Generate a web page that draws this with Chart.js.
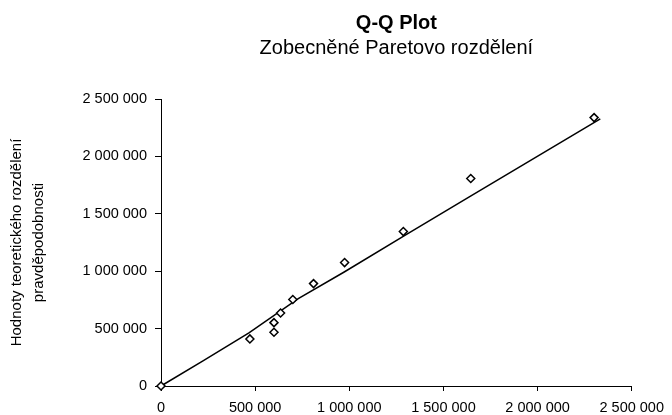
<!DOCTYPE html>
<html>
<head>
<meta charset="utf-8">
<title>Q-Q Plot</title>
<script src="https://cdn.jsdelivr.net/npm/chart.js@4.4.1/dist/chart.umd.min.js"></script>
<style>
body { margin: 0; background: #fff; }
#box { width: 672px; height: 415px; }
</style>
</head>
<body>
<div id="box"><canvas id="qq-plot"></canvas></div>
<script>
// data
var sampleX = [0, 472000, 600000, 600000, 635000, 700000, 810000, 975000, 1287000, 1645000, 2300000];
var sampleY = [0, 410000, 468000, 552000, 636000, 753000, 892000, 1075000, 1345000, 1808000, 2338000];
var lineX = [0, 223000, 467000, 729000, 973000, 1304000, 1635000, 2333000];
var lineY = [0, 218000, 462000, 761000, 993000, 1321000, 1646000, 2326000];
var axisTicks = [0, 500000, 1000000, 1500000, 2000000, 2500000];

var titleText = "Q-Q Plot";
var subtitleText = "Zobecněné Paretovo rozdělení";
var yTitle = ["Hodnoty teoretického rozdělení", "pravděpodobnosti"];

var font = '"Liberation Sans", Arial, sans-serif';

function pairs(xs, ys) {
    var out = [];
    for (var i = 0; i < xs.length; i++) {
        out.push({x: xs[i], y: ys[i]});
    }
    return out;
}

// "2 500 000"
function spaced(v) {
    return String(v).replace(/\B(?=(\d{3})+(?!\d))/g, " ");
}

function fixedTicks(scale) {
    scale.ticks = axisTicks.map(function (v) { return {value: v}; });
}

Chart.defaults.color = "#000000";
Chart.defaults.font.family = font;

var ctx = document.getElementById("qq-plot").getContext("2d");
var qqChart = new Chart(ctx, {
    type: "scatter",
    data: {
        datasets: [
            {
                label: "data",
                data: pairs(sampleX, sampleY),
                pointStyle: "rectRot",
                pointRadius: 4,
                pointBorderWidth: 1.5,
                pointBorderColor: "#000000",
                pointBackgroundColor: "#ffffff",
                showLine: false,
                clip: false
            },
            {
                label: "model",
                data: pairs(lineX, lineY),
                showLine: true,
                borderColor: "#000000",
                borderWidth: 1.5,
                pointRadius: 0,
                tension: 0,
                clip: false
            }
        ]
    },
    options: {
        responsive: true,
        maintainAspectRatio: false,
        animation: false,
        layout: {
            padding: {left: 0, right: 33, top: 0, bottom: 0}
        },
        plugins: {
            legend: {display: false},
            tooltip: {enabled: false},
            title: {
                display: true,
                text: titleText,
                fullSize: false,
                color: "#000000",
                font: {size: 20, weight: "bold", lineHeight: 1.2},
                padding: {top: 11, bottom: 0}
            },
            subtitle: {
                display: true,
                text: subtitleText,
                fullSize: false,
                color: "#000000",
                font: {size: 20, lineHeight: 1.2},
                padding: {top: 1, bottom: 39}
            }
        },
        scales: {
            x: {
                type: "linear",
                min: 0,
                max: 2500000,
                afterBuildTicks: fixedTicks,
                afterFit: function (scale) { scale.height = 29; },
                border: {color: "#000000", width: 1},
                grid: {
                    drawOnChartArea: false,
                    drawTicks: true,
                    tickLength: 5,
                    color: "#000000"
                },
                ticks: {
                    padding: 8,
                    maxRotation: 0,
                    font: {size: 14.5},
                    callback: function (v) { return spaced(v); }
                }
            },
            y: {
                type: "linear",
                min: 0,
                max: 2500000,
                afterBuildTicks: fixedTicks,
                afterFit: function (scale) { scale.width = 161; },
                border: {color: "#000000", width: 1},
                grid: {
                    drawOnChartArea: false,
                    drawTicks: true,
                    tickLength: 6,
                    color: "#000000"
                },
                ticks: {
                    padding: 8,
                    font: {size: 14.5},
                    callback: function (v) { return spaced(v); }
                },
                title: {
                    display: true,
                    text: yTitle,
                    color: "#000000",
                    font: {size: 15, lineHeight: 22 / 15},
                    padding: {top: 6, bottom: 0}
                }
            }
        }
    }
});
</script>
</body>
</html>
